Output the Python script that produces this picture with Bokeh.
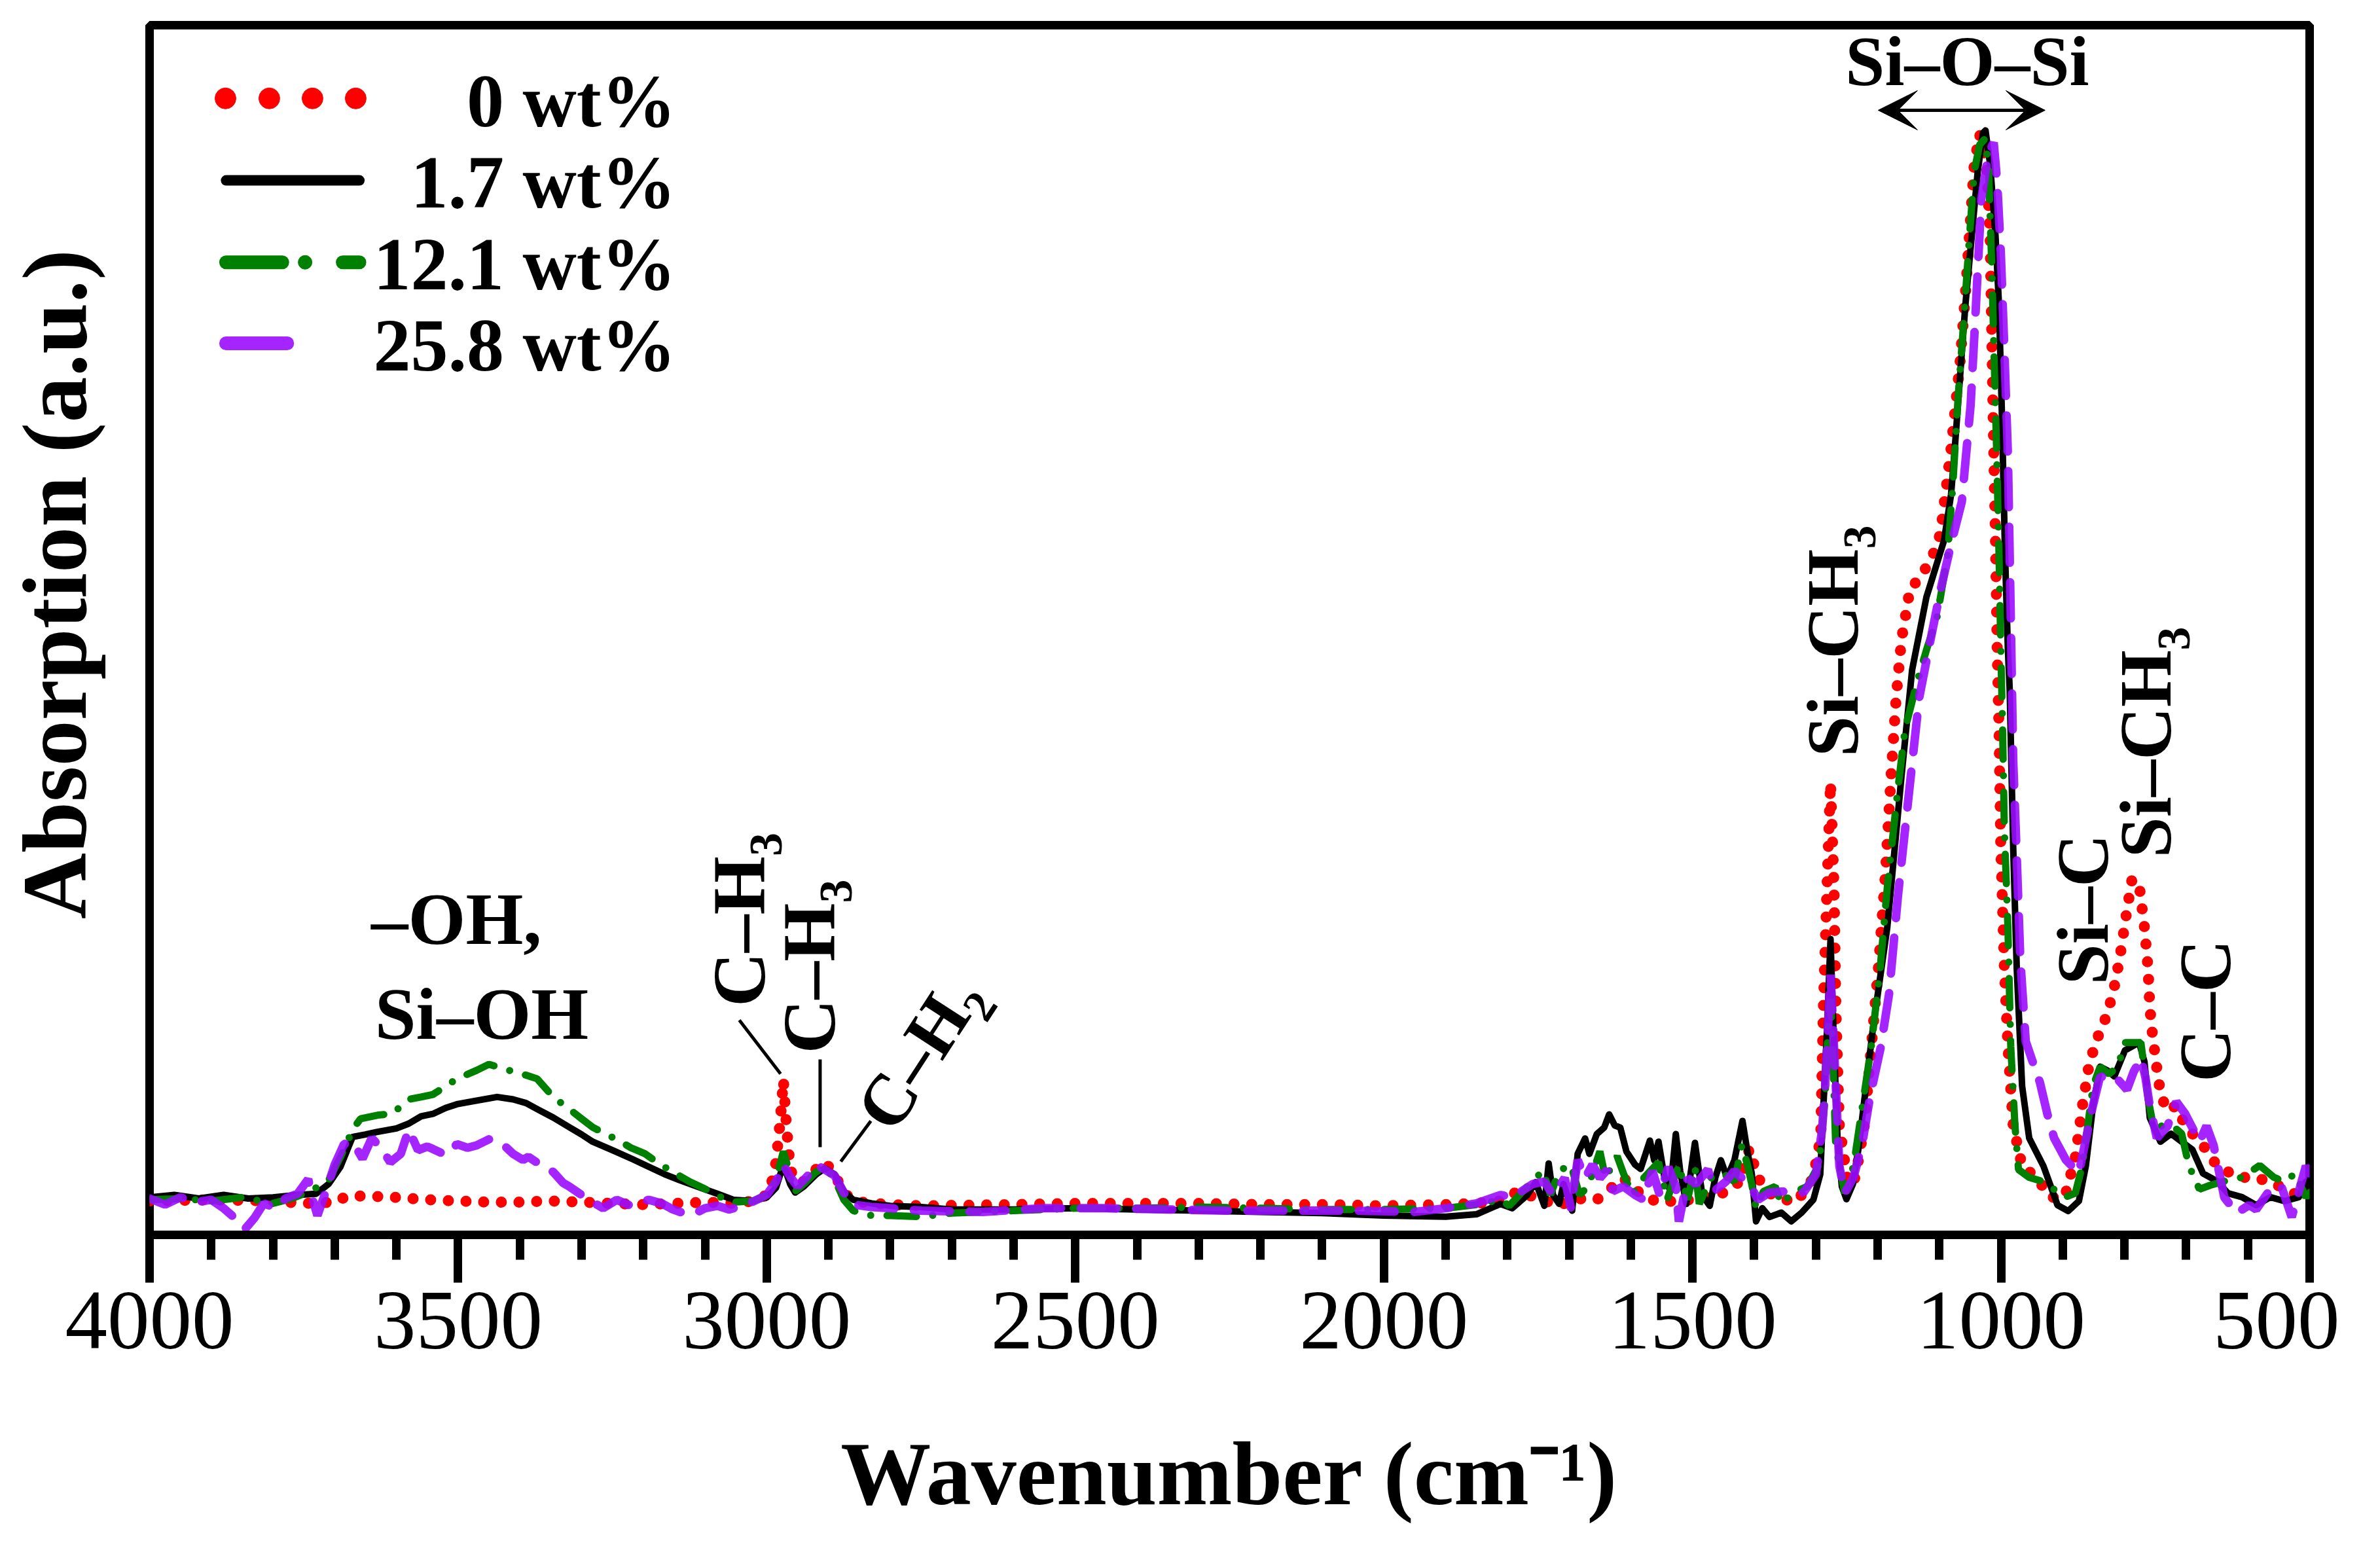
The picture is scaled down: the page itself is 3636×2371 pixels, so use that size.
from math import pi, sin, cos
from bokeh.plotting import figure
from bokeh.models import Range1d, FixedTicker, Label, Arrow, VeeHead
from bokeh.embed import file_html
from bokeh.resources import INLINE

# ---- spectra (wavenumber, absorption in arbitrary units) ----
wn_0 = [4000, 3900, 3800, 3750, 3700, 3680, 3650, 3600, 3550, 3500, 3450, 3400, 3350, 3300, 3250,
        3200, 3150, 3100, 3050, 3010, 2995, 2985, 2978, 2973, 2968, 2962, 2955, 2940, 2925, 2906,
        2890, 2875, 2860, 2830, 2800, 2750, 2600, 2500, 2400, 2300, 2200, 2100, 2000, 1900, 1850,
        1811, 1783, 1750, 1716, 1690, 1655, 1612, 1580, 1555, 1503, 1456, 1420, 1408, 1394, 1370,
        1333, 1309, 1297, 1292, 1287.8, 1282, 1276.3, 1270.6, 1267.7, 1262, 1247.6, 1236, 1221.7,
        1213.1, 1198.7, 1187.2, 1178.6, 1170, 1161.4, 1152.7, 1147, 1135.5, 1112.5, 1098.1, 1081,
        1066.5, 1057.9, 1049.3, 1043.5, 1034.9, 1023.4, 1017.7, 1014.8, 1011.9, 1009, 1006.2, 1003.3,
        1000.4, 994.7, 988.9, 980.3, 965.9, 942.9, 920, 897, 879.7, 868.2, 856.7, 839.5, 828, 816.5,
        807.9, 796.4, 787.8, 776.3, 767.6, 761.9, 759, 756.1, 750.4, 744.6, 733.1, 716.1, 701.5,
        672.8, 649.8, 615.3, 586.6, 552, 512, 500]
abs_0 = [2.8, 2.9, 2.8, 2.6, 2.7, 3.2, 3.2, 3.1, 2.9, 2.8, 2.7, 2.7, 2.8, 2.7, 2.6,
         2.5, 2.6, 2.7, 2.6, 2.9, 3.6, 6.0, 9.5, 12.8, 9.0, 5.5, 4.5, 4.4, 5.2, 6.05,
         5.0, 3.5, 2.8, 2.6, 2.5, 2.4, 2.5, 2.6, 2.6, 2.6, 2.5, 2.5, 2.4, 2.5, 2.6,
         2.8, 3.6, 3.0, 2.4, 3.0, 2.9, 4.7, 3.2, 2.7, 2.9, 3.3, 4.5, 7.1, 4.7, 3.2,
         2.7, 4.2, 6.5, 8.5, 18.9, 28.7, 37.4, 28.7, 18.9, 9.0, 4.1, 4.75, 9.0,
         13.9, 22.1, 30.0, 37.6, 44.4, 49.2, 51.8, 53.6, 54.0, 55.9, 58.0, 65.0,
         72.1, 77.7, 84.1, 88.5, 91.0, 88.5, 82.6, 73.8, 65.0, 57.4, 48.4, 41.8,
         32.0, 22.1, 15.6, 9.0, 5.7, 4.75, 3.1, 3.1, 6.4, 10.66, 14.27, 16.9, 18.2, 20.5,
         22.8, 26.7, 29.4, 29.0, 25.4, 22.1, 18.9, 17.2, 14.9, 12.6, 10.3, 10.66, 9.0,
         7.4, 5.7, 4.75, 4.75, 4.1, 3.1, 3.3]

wn_17 = [4000, 3960, 3920, 3880, 3840, 3800, 3760, 3730, 3710, 3691, 3671, 3650, 3632, 3600, 3580,
         3560, 3541, 3520, 3502, 3470, 3437, 3411, 3390, 3372, 3346, 3320, 3300, 3282, 3250, 3217,
         3190, 3165, 3140, 3113, 3080, 3054, 3022, 3000, 2985, 2973, 2962, 2954, 2940, 2920, 2906,
         2890, 2875, 2860, 2830, 2800, 2750, 2700, 2600, 2500, 2400, 2300, 2200, 2100, 2000, 1900,
         1850, 1811, 1792, 1768, 1754, 1740, 1733, 1726, 1716, 1709, 1695, 1686, 1674, 1667, 1655,
         1643, 1635, 1626, 1617, 1607, 1593, 1584, 1569, 1562, 1555, 1546, 1536, 1527, 1520, 1510,
         1496, 1484, 1472, 1463, 1454, 1444, 1432, 1419, 1411, 1404, 1397, 1387, 1375, 1356, 1340,
         1323, 1304, 1293, 1287.8, 1282, 1276.3, 1271, 1265, 1258, 1250.5, 1240, 1230.3, 1207.3,
         1184.4, 1161.4, 1144.1, 1121, 1110, 1092.4, 1081, 1075, 1066.5, 1057.9, 1046.4, 1037.8,
         1029.2, 1025.2, 1017.7, 1009, 1003.3, 998.7, 993.5, 988.9, 986, 980.3, 974.6, 965.9, 954.4,
         931.4, 908.5, 891.2, 873.9, 862.5, 851, 839.5, 828, 816.5, 799.2, 776.3, 767.6, 759, 741.8,
         724.5, 707.3, 690, 672.8, 649.8, 632.5, 609.6, 586.6, 563.6, 540.6, 517.6, 506, 500]
abs_17 = [3.1, 3.3, 3.0, 3.3, 3.0, 3.1, 3.3, 3.4, 4.2, 5.6, 8.1, 8.3, 8.5, 8.8, 9.2,
          9.8, 10.0, 10.5, 10.8, 11.1, 11.4, 11.2, 10.9, 10.4, 9.7, 8.9, 8.3, 7.7, 7.0, 6.25,
          5.6, 5.0, 4.5, 4.0, 3.4, 2.9, 2.8, 3.1, 3.9, 5.8, 4.2, 3.5, 4.0, 5.0, 5.5,
          5.0, 3.6, 2.9, 2.6, 2.4, 2.3, 2.1, 2.1, 2.2, 2.1, 2.0, 1.9, 1.8, 1.6, 1.5,
          1.7, 2.56, 2.2, 3.28, 4.36, 2.4, 5.9, 3.3, 2.56, 4.2, 2.0, 6.7, 7.97, 6.7, 8.33,
          8.87, 9.96, 9.05, 8.87, 6.89, 5.8, 5.45, 7.79, 6.17, 7.7, 4.9, 3.64, 8.33, 5.3, 2.56,
          7.6, 3.28, 2.4, 4.73, 6.17, 4.73, 6.17, 9.42, 6.89, 5.09, 1.12, 2.2, 1.48, 1.84, 1.12,
          1.84, 2.92, 5.0, 10.66, 17.0, 24.44, 16.0, 8.0, 4.0, 2.95, 4.2, 7.38, 17.2,
          25.4, 37.88, 46.7, 52.7, 54.5, 57.4, 61.2, 65.0, 70.9, 76.8, 83.2, 87.9,
          91.1, 91.3, 88.5, 82.6, 76.8, 68.0, 56.2, 48.4, 45.1, 32.0, 22.1, 12.3, 8.0,
          5.7, 2.46, 1.97, 2.79, 5.74, 10.66, 13.9, 13.6, 13.1, 15.25, 15.9, 14.3, 9.68, 7.7,
          8.36, 7.7, 7.05, 5.08, 4.43, 3.44, 3.12, 2.46, 3.12, 2.79, 3.12, 4.4, 4.0]

wn_121 = [4000, 3950, 3900, 3850, 3800, 3770, 3740, 3710, 3690, 3670, 3658, 3630, 3606, 3590, 3580,
          3560, 3541, 3520, 3502, 3470, 3450, 3430, 3411, 3390, 3372, 3346, 3320, 3300, 3282, 3260,
          3243, 3220, 3197, 3175, 3152, 3125, 3100, 3070, 3054, 3022, 3000, 2985, 2973, 2965, 2956,
          2940, 2920, 2906, 2890, 2875, 2860, 2830, 2800, 2750, 2700, 2600, 2500, 2400, 2300, 2200,
          2100, 2000, 1900, 1850, 1811, 1797, 1764, 1742, 1730, 1716, 1697, 1683, 1669, 1650, 1641,
          1622, 1612, 1598, 1579, 1555, 1541, 1522, 1508, 1496, 1489, 1470, 1451, 1432, 1420, 1411,
          1404, 1397, 1385, 1366, 1356, 1337, 1314, 1295, 1285, 1280, 1276, 1272, 1268, 1253.3, 1239,
          1224.6, 1210.2, 1195.8, 1184.4, 1167.1, 1155.6, 1135.5, 1120, 1103.9, 1086.6, 1078, 1069.4,
          1060.8, 1052.2, 1043.5, 1034.9, 1026.3, 1020.5, 1017.7, 1014.8, 1011.9, 1007.3, 1003.3,
          1000.4, 997.5, 994.7, 988.9, 984.3, 977.4, 971.7, 954.4, 931.4, 914.3, 897, 879.7, 868.2,
          859.6, 851, 839.5, 825.1, 810.8, 799.2, 782, 773.4, 767.6, 761.9, 753.3, 736, 721.6, 707.3,
          695.8, 678.5, 661.3, 638.3, 609.6, 580.8, 557.8, 540.6, 523.3, 506, 500]
abs_121 = [2.9, 3.0, 2.8, 3.1, 2.6, 3.0, 3.6, 4.5, 6.5, 8.8, 9.6, 9.9, 10.0, 10.8, 11.2,
           11.4, 11.6, 12.3, 12.9, 13.6, 14.1, 13.8, 13.5, 13.2, 12.9, 11.4, 10.4, 9.6, 8.9, 8.3,
           7.9, 7.2, 6.7, 5.9, 5.2, 4.4, 3.8, 3.0, 2.7, 2.8, 3.3, 4.6, 6.9, 5.5, 3.5,
           4.2, 5.2, 5.6, 4.6, 2.9, 2.0, 1.6, 1.6, 1.5, 1.8, 2.0, 2.2, 2.2, 2.3, 2.2,
           2.1, 2.1, 2.2, 2.5, 2.9, 2.4, 4.2, 5.3, 3.3, 5.3, 5.8, 3.3, 4.0, 6.9, 4.7,
           6.5, 5.1, 3.3, 4.7, 6.0, 2.9, 5.8, 2.9, 5.6, 2.56, 4.7, 5.1, 4.4, 7.4, 5.8,
           4.2, 2.2, 3.6, 4.0, 2.56, 3.5, 4.0, 5.8, 11.4, 17.5, 19.5, 14.0, 7.4, 3.44, 5.7,
           10.66, 15.6, 22.1, 28.7, 36.9, 41.8, 45.8, 48.5, 51.0, 56.2, 62.1, 69.4,
           75.3, 81.8, 87.9, 90.1, 90.6, 88.5, 84.1, 79.7, 73.8, 65.0, 56.2,
           48.4, 41.8, 33.6, 25.4, 15.6, 9.0, 5.4, 4.75, 4.4, 3.77, 3.1, 3.44, 5.74,
           9.0, 12.3, 13.9, 13.3, 13.9, 15.9, 15.9, 15.9, 13.6, 11.3, 9.0, 9.0, 9.0, 8.36,
           5.74, 3.77, 4.1, 4.43, 4.75, 5.74, 4.75, 4.4, 5.08, 3.1, 3.5]

wn_258 = [4000, 3975, 3950, 3925, 3900, 3880, 3860, 3845, 3830, 3815, 3795, 3780, 3760, 3743, 3735,
          3728, 3715, 3700, 3685, 3671, 3655, 3640, 3625, 3610, 3593, 3580, 3565, 3550, 3541, 3520,
          3502, 3485, 3470, 3450, 3430, 3411, 3395, 3386, 3370, 3346, 3330, 3320, 3300, 3282, 3265,
          3243, 3220, 3191, 3170, 3152, 3135, 3119, 3100, 3080, 3061, 3040, 3020, 3000, 2985, 2973,
          2962, 2950, 2935, 2920, 2906, 2890, 2875, 2860, 2830, 2800, 2750, 2650, 2550, 2450, 2350,
          2250, 2150, 2050, 1950, 1900, 1850, 1811, 1792, 1759, 1740, 1726, 1707, 1697, 1686, 1674,
          1662, 1650, 1638, 1629, 1612, 1593, 1579, 1565, 1553, 1539, 1527, 1522, 1508, 1494, 1475,
          1465, 1446, 1432, 1420, 1405, 1394, 1375, 1347, 1320, 1300, 1290, 1285, 1280, 1276.3, 1272,
          1267.7, 1262, 1253.3, 1239, 1225, 1212, 1195, 1181.5, 1167.1, 1149.9, 1132.6, 1115, 1098.1,
          1081, 1063.6, 1049.3, 1040.7, 1032, 1020.5, 1011.9, 1006.2, 1000.4, 994.7, 988.9, 986,
          980.3, 974.6, 968.8, 960, 950, 937, 925, 914, 895, 874, 860, 852, 840, 825, 810, 796, 785,
          773, 766, 759, 747.5, 730.2, 716, 701.6, 678.5, 667, 655.6, 638.3, 618.2, 598, 586.6,
          563.6, 546.3, 529, 506, 500]
abs_258 = [3.0, 2.5, 3.1, 2.7, 2.9, 2.2, 1.3, 0.5, 1.4, 2.6, 2.2, 3.0, 3.4, 4.6, 2.8,
           1.6, 3.5, 5.8, 7.5, 7.7, 6.3, 8.0, 7.2, 6.0, 6.7, 8.7, 7.0, 7.3, 7.1, 6.6,
           7.5, 7.2, 7.4, 7.9, 7.6, 6.7, 6.2, 6.45, 5.9, 5.2, 4.3, 4.0, 3.3, 2.7, 2.2,
           2.9, 2.4, 2.9, 2.6, 2.1, 1.8, 1.7, 2.2, 2.4, 2.1, 2.4, 2.8, 3.3, 4.4, 5.8,
           4.8, 4.0, 4.8, 5.8, 5.4, 4.9, 3.5, 2.5, 2.3, 2.2, 2.0, 1.9, 2.2, 2.2, 2.1,
           2.0, 2.0, 2.0, 1.9, 2.2, 2.6, 3.3, 3.1, 4.2, 4.4, 3.3, 4.7, 2.2, 6.2, 4.7,
           5.8, 4.7, 5.4, 3.6, 4.0, 3.3, 2.9, 5.3, 3.3, 5.6, 4.0, 1.1, 4.7, 4.2, 5.4,
           3.6, 4.4, 5.3, 4.7, 4.0, 2.9, 3.5, 3.6, 3.5, 5.0, 8.7, 12.3, 17.5, 21.5, 17.0,
           12.3, 5.7, 3.44, 4.75, 7.5, 11.5, 15.5, 19.9, 28.0, 36.2, 44.4, 49.0, 53.3,
           57.1, 60.6, 68.6, 76.8, 85.6, 89.4, 90.3, 87.0, 81.2, 73.3, 64.5, 56.2,
           39.2, 31.3, 22.8, 16.0, 14.5, 12.6, 10.0, 8.0, 6.2, 5.1, 8.5, 10.5, 13.0, 13.3, 12.8, 12.0, 13.5,
           14.6, 13.0, 10.66, 8.0, 9.0, 11.0, 10.0, 7.7, 9.0, 7.4, 3.1, 1.8, 2.46, 2.1,
           3.77, 4.1, 1.47, 5.7, 5.0]

series_names = ["0 wt%", "1.7 wt%", "12.1 wt%", "25.8 wt%"]
major_ticks = [4000, 3500, 3000, 2500, 2000, 1500, 1000, 500]
minor_ticks = list(range(4000, 499, -100))

FONT = "Liberation Serif"
RED, BLACK, GREEN, PURPLE = "#ff0000", "#000000", "#008000", "#9a0dff"
FRAME_W, FRAME_H = 3300, 1848
SX = FRAME_W / 3500.0   # px per wavenumber
SY = FRAME_H / 100.0    # px per absorption unit

p = figure(width=3574, height=2355, output_backend="svg", toolbar_location=None,
           x_range=Range1d(4000, 500), y_range=Range1d(0, 100), y_axis_location="left",
           min_border_left=228, min_border_right=46, min_border_top=38, min_border_bottom=469)
p.background_fill_color = "white"
p.border_fill_color = "white"
p.outline_line_color = "black"
p.outline_line_width = 13
p.grid.grid_line_color = None

ax = p.xaxis[0]
ax.ticker = FixedTicker(ticks=major_ticks, minor_ticks=minor_ticks)
ax.axis_line_width = 13
ax.major_tick_line_width = 13
ax.minor_tick_line_width = 13
ax.major_tick_in = 0
ax.major_tick_out = 73
ax.minor_tick_in = 0
ax.minor_tick_out = 38
ax.major_label_text_font = FONT
ax.major_label_text_font_size = "129px"
ax.major_label_text_color = "black"
ax.major_label_standoff = 15
ax.axis_label = "Wavenumber (cm\u207b\u00b9)"
ax.axis_label_text_font = FONT
ax.axis_label_text_font_size = "138px"
ax.axis_label_text_font_style = "bold"
ax.axis_label_text_color = "black"
ax.axis_label_standoff = 112

# invisible left axis, only carries the title
yax = p.yaxis[0]
yax.ticker = FixedTicker(ticks=[])
yax.axis_line_color = None
yax.major_tick_line_color = None
yax.minor_tick_line_color = None
yax.major_tick_out = 0
yax.minor_tick_out = 0
yax.major_label_text_font_size = "0px"
yax.major_label_standoff = 0
# leading no-break spaces push the centred title towards the top, as in the original
yax.axis_label = "\u00a0\u00a0\u00a0\u00a0Absorption (a.u.)"
yax.axis_label_text_font = FONT
yax.axis_label_text_font_size = "140px"
yax.axis_label_text_font_style = "bold"
yax.axis_label_text_color = "black"
yax.axis_label_standoff = 68

# spectra
p.line(wn_0, abs_0, line_color=RED, line_width=17, line_dash="0 27", line_cap="round")
p.line(wn_17, abs_17, line_color=BLACK, line_width=10, line_join="round")
p.line(wn_121, abs_121, line_color=GREEN, line_width=11, line_dash="45 25 0 25", line_cap="round")
p.line(wn_258, abs_258, line_color=PURPLE, line_alpha=0.9, line_width=13,
       line_dash="55 30", line_cap="round")


def txt(x, y, s, size, angle=0.0, align="left"):
    # nudge the anchor along the text's own "up" so the glyph baseline lands where wanted
    d = 0.31 * size
    x += sin(angle) * d / SX
    y += cos(angle) * d / SY
    p.add_layout(Label(x=x, y=y, text=s, text_font=FONT, text_font_size=f"{size}px",
                       text_font_style="bold", text_color="black", angle=angle,
                       text_align=align, text_baseline="alphabetic"))


# legend (drawn by hand)
p.scatter([3877, 3806, 3736, 3666], [93.95] * 4, size=32, color=RED)
p.line([3876, 3660], [87.17, 87.17], line_color=BLACK, line_width=16, line_cap="round")
p.line([3876, 3785], [80.4, 80.4], line_color=GREEN, line_width=21, line_cap="round")
p.scatter([3748], [80.4], size=21, color=GREEN)
p.line([3687, 3660], [80.4, 80.4], line_color=GREEN, line_width=21, line_cap="round")
p.line([3876, 3777], [73.7, 73.7], line_color=PURPLE, line_alpha=0.9, line_width=21, line_cap="round")
for name, yb in zip(series_names, [91.83, 85.12, 78.35, 71.65]):
    txt(3147, yb, name, 114, align="right")

# band assignments
up = pi / 2
txt(3641, 24.24, "\u2013OH,", 113)
txt(3635, 16.4, "Si\u2013OH", 113)
txt(3006.3, 18.86, "C\u2013H", 115, up)
txt(2977.6, 31.3, "3", 72, up)
txt(2892.8, 14.99, "C\u2013H", 115, up)
txt(2864.1, 27.44, "3", 72, up)
txt(2796.3, 8.28, "C\u2013H", 110, 0.995)
txt(2645.1, 17.48, "2", 70, 0.995)
p.segment(x0=[3044.4, 2913.5, 2831.3], y0=[17.75, 14.5, 9.42],
          x1=[2977.6, 2913.5, 2880.0], y1=[13.31, 7.25, 6.06], line_color="black", line_width=5)

txt(1236.2, 39.52, "Si\u2013CH", 112, up)
txt(1204.6, 56.71, "3", 72, up)
txt(831.1, 20.67, "Si\u2013C", 112, up)
txt(729.2, 31.17, "Si\u2013CH", 112, up)
txt(696.4, 48.32, "3", 72, up)
txt(632.7, 12.63, "C\u2013C", 112, up)
txt(1054.8, 95.21, "Si\u2013O\u2013Si", 108, align="center")
p.add_layout(Arrow(start=VeeHead(size=60, fill_color="black", line_color="black"),
                   end=VeeHead(size=60, fill_color="black", line_color="black"),
                   x_start=1199.1, y_start=92.97, x_end=928.6, y_end=92.97,
                   line_color="black", line_width=5))

open("out.html", "w").write(file_html(p, INLINE))
